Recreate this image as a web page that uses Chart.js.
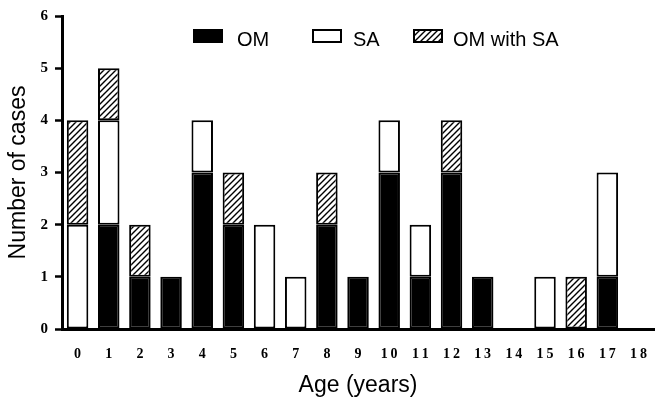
<!DOCTYPE html>
<html>
<head>
<meta charset="utf-8">
<script src="https://cdn.jsdelivr.net/npm/chart.js@4"></script>
<style>
  html, body { margin: 0; padding: 0; background: #fff; overflow: hidden; }
  canvas { display: block; }
</style>
</head>
<body>
<canvas id="casesChart" width="664" height="397"></canvas>
<script>
const ages = ["0", "1", "2", "3", "4", "5", "6", "7", "8", "9", "10", "11", "12", "13", "14", "15", "16", "17", "18"];
const omCases = [0, 2, 1, 1, 3, 2, 0, 0, 2, 1, 3, 1, 3, 1, 0, 0, 0, 1, 0];
const saCases = [2, 2, 0, 0, 1, 0, 2, 1, 0, 0, 1, 1, 0, 0, 0, 1, 0, 2, 0];
const omWithSaCases = [2, 1, 1, 0, 0, 1, 0, 0, 1, 0, 0, 0, 1, 0, 0, 0, 1, 0, 0];
const seriesNames = ["OM", "SA", "OM with SA"];
const yTicks = [0, 1, 2, 3, 4, 5, 6];

function makeHatch() {
  const p = 6;
  const tile = document.createElement("canvas");
  tile.width = p;
  tile.height = p;
  const c = tile.getContext("2d");
  c.fillStyle = "#fff";
  c.fillRect(0, 0, p, p);
  c.strokeStyle = "#000";
  c.lineWidth = 1.4;
  c.beginPath();
  c.moveTo(-1, 1); c.lineTo(1, -1);
  c.moveTo(0, p); c.lineTo(p, 0);
  c.moveTo(p - 1, p + 1); c.lineTo(p + 1, p - 1);
  c.stroke();
  return c.createPattern(tile, "repeat");
}

const ctx = document.getElementById("casesChart").getContext("2d");
const hatch = makeHatch();

// legend drawn inside the plot, like the original figure
const boxLegend = {
  id: "boxLegend",
  afterDraw(chart) {
    const c = chart.ctx;
    const spots = [{ x: 193, tx: 237 }, { x: 312, tx: 353 }, { x: 413, tx: 453 }];
    c.save();
    chart.data.datasets.forEach((ds, i) => {
      const s = spots[i];
      c.fillStyle = ds.backgroundColor;
      c.fillRect(s.x, 29, 30, 14);
      c.lineWidth = 2;
      c.strokeStyle = "#000";
      c.strokeRect(s.x + 1, 30, 28, 12);
      c.fillStyle = "#000";
      c.font = "20px 'Liberation Sans', Arial, sans-serif";
      c.textBaseline = "middle";
      c.textAlign = "left";
      c.fillText(ds.label, s.tx, 40);
    });
    c.restore();
  }
};

new Chart(ctx, {
  type: "bar",
  data: {
    labels: ages,
    datasets: [
      { label: seriesNames[0], data: omCases, backgroundColor: "#000" },
      { label: seriesNames[1], data: saCases, backgroundColor: "#fff" },
      { label: seriesNames[2], data: omWithSaCases, backgroundColor: hatch }
    ]
  },
  options: {
    responsive: false,
    animation: false,
    layout: { padding: { top: 15, right: 4, left: 0, bottom: 0 } },
    datasets: {
      bar: {
        borderColor: "#000",
        borderWidth: 2,
        borderSkipped: false,
        categoryPercentage: 1,
        barPercentage: 0.69
      }
    },
    plugins: {
      legend: { display: false },
      tooltip: { enabled: false }
    },
    scales: {
      x: {
        stacked: true,
        grid: { display: false, drawTicks: false },
        border: { display: true, color: "#000", width: 3 },
        ticks: {
          color: "#000",
          padding: 17,
          maxRotation: 0,
          autoSkip: false,
          font: { family: "'Liberation Serif', 'Times New Roman', serif", weight: "bold", size: 14 },
          callback: (v, i) => ages[i].split("").join("\u2009")
        },
        title: {
          display: true,
          text: "Age (years)",
          color: "#000",
          padding: { top: 0, bottom: 0 },
          font: { family: "'Liberation Sans', Arial, sans-serif", size: 23, lineHeight: 1 }
        },
        afterFit: (s) => { s.height = 68; }
      },
      y: {
        stacked: true,
        min: 0,
        max: 6,
        afterBuildTicks: (s) => { s.ticks = yTicks.map((v) => ({ value: v })); },
        grid: { drawOnChartArea: false, drawTicks: true, tickLength: 7, tickWidth: 2.5, tickColor: "#000" },
        border: { display: true, color: "#000", width: 3 },
        ticks: {
          color: "#000",
          padding: 7,
          font: { family: "'Liberation Serif', 'Times New Roman', serif", weight: "bold", size: 15 }
        },
        title: {
          display: true,
          text: "Number of cases",
          color: "#000",
          padding: { top: 7, bottom: 0 },
          font: { family: "'Liberation Sans', Arial, sans-serif", size: 23, lineHeight: 1 }
        },
        afterFit: (s) => { s.width = 62; }
      }
    }
  },
  plugins: [boxLegend]
});
</script>
</body>
</html>
